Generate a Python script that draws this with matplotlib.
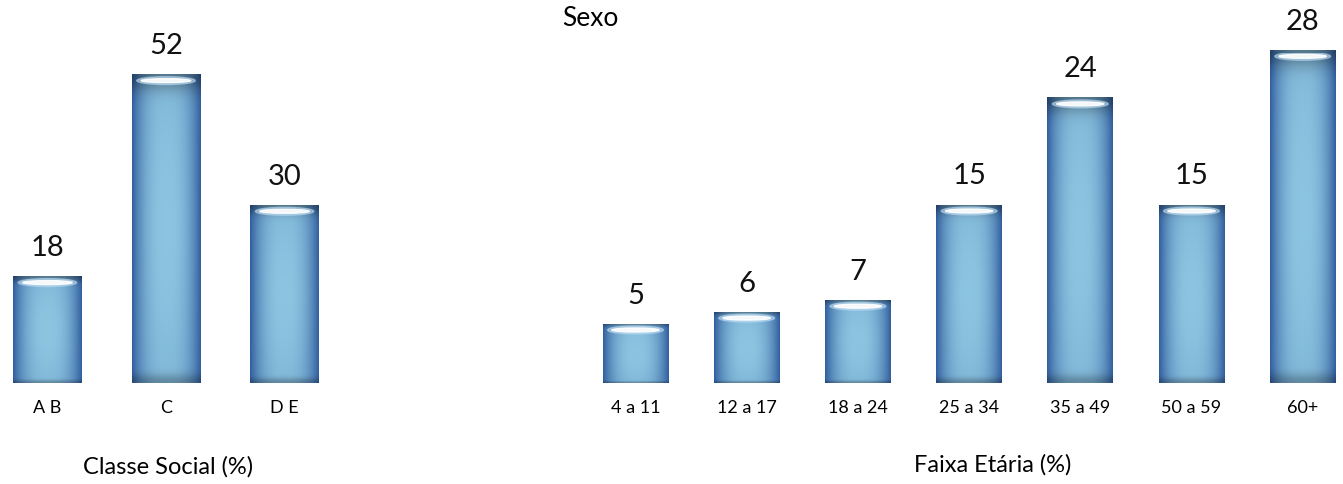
import numpy as np
import matplotlib
matplotlib.use("Agg")
import matplotlib.pyplot as plt
from matplotlib.patches import Ellipse

plt.rcParams['font.family'] = ['Lato', 'DejaVu Sans']

classe_cats = ['A B', 'C', 'D E']
classe_vals = [18, 52, 30]

faixa_cats = ['4 a 11', '12 a 17', '18 a 24', '25 a 34', '35 a 49', '50 a 59', '60+']
faixa_vals = [5, 6, 7, 15, 24, 15, 28]

W, H = 1343, 484
fig = plt.figure(figsize=(W / 100, H / 100), dpi=100)

# gradient texture for the "cylinder" bars
nx, ny = 64, 128
xs = np.linspace(-1, 1, nx)
ys = np.linspace(0, 1, ny)
hprof = 1 - np.abs(xs) ** 2.6
vprof = 0.88 + 0.12 * np.sin(ys * np.pi)
dark = np.array([0.20, 0.38, 0.63])
light = np.array([0.55, 0.77, 0.88])
t = np.clip(hprof[None, :] * vprof[:, None], 0, 1)
tex = dark[None, None, :] * (1 - t[..., None]) + light[None, None, :] * t[..., None]
# darker bands near the top and bottom
top = np.exp(-((1 - ys) / 0.05) ** 2)[:, None, None]
bot = np.exp(-(ys / 0.025) ** 2)[:, None, None]
tex = tex * (1 - 0.35 * top) * (1 - 0.25 * bot)


def cyl_bars(ax, vals, width, px_per_unit):
    xpos = np.arange(len(vals))
    bars = ax.bar(xpos, vals, width=width, color='none', edgecolor='none')
    for b, v in zip(bars, vals):
        x0 = b.get_x()
        im = ax.imshow(tex, extent=(x0, x0 + width, 0, v), origin='lower',
                       aspect='auto', interpolation='bilinear', zorder=2)
        im.set_clip_path(b)
        glow = Ellipse((x0 + width / 2, v - 6.5 / px_per_unit), width * 0.85,
                       8 / px_per_unit, color='#b8d8f0', alpha=0.6, zorder=3)
        ax.add_patch(glow)
        hl = Ellipse((x0 + width / 2, v - 6.5 / px_per_unit), width * 0.72,
                     4 / px_per_unit, color='white', alpha=0.9, zorder=3)
        ax.add_patch(hl)
        ax.annotate(str(v), (x0 + width / 2, v), xytext=(0, 15),
                    textcoords='offset pixels', ha='center', va='bottom',
                    fontsize=21, color='#111111', annotation_clip=False)
    return xpos


def style(ax, cats):
    ax.set_xticks(np.arange(len(cats)))
    ax.set_xticklabels(cats, fontsize=13)
    ax.tick_params(axis='x', length=0, pad=12)
    ax.set_yticks([])
    for s in ax.spines.values():
        s.set_visible(False)
    ax.patch.set_alpha(0)


base = (H - 383) / H
ah = 330 / H

# left panel: Classe Social
ax1 = fig.add_axes([0, base, 332 / W, ah])
cyl_bars(ax1, classe_vals, 0.58, 5.94)
ax1.set_xlim(-0.40, 2.40)
ax1.set_ylim(0, 330 / 5.94)
style(ax1, classe_cats)

# right panel: Faixa Etaria
ax2 = fig.add_axes([(636 - 0.5 * 111.2 - 0.5) / W, base, 7 * 111.2 / W, ah])
cyl_bars(ax2, faixa_vals, 0.59, 11.9)
ax2.set_xlim(-0.5, 6.5)
ax2.set_ylim(0, 330 / 11.9)
style(ax2, faixa_cats)

fig.text(168 / W, 1 - 467 / H, 'Classe Social (%)', ha='center', va='center', fontsize=17)
fig.text(993 / W, 1 - 465 / H, 'Faixa Etária (%)', ha='center', va='center', fontsize=17)
fig.text(590 / W, 1 - 18 / H, 'Sexo', ha='center', va='center', fontsize=19)

fig.savefig('out.png', dpi=100)
